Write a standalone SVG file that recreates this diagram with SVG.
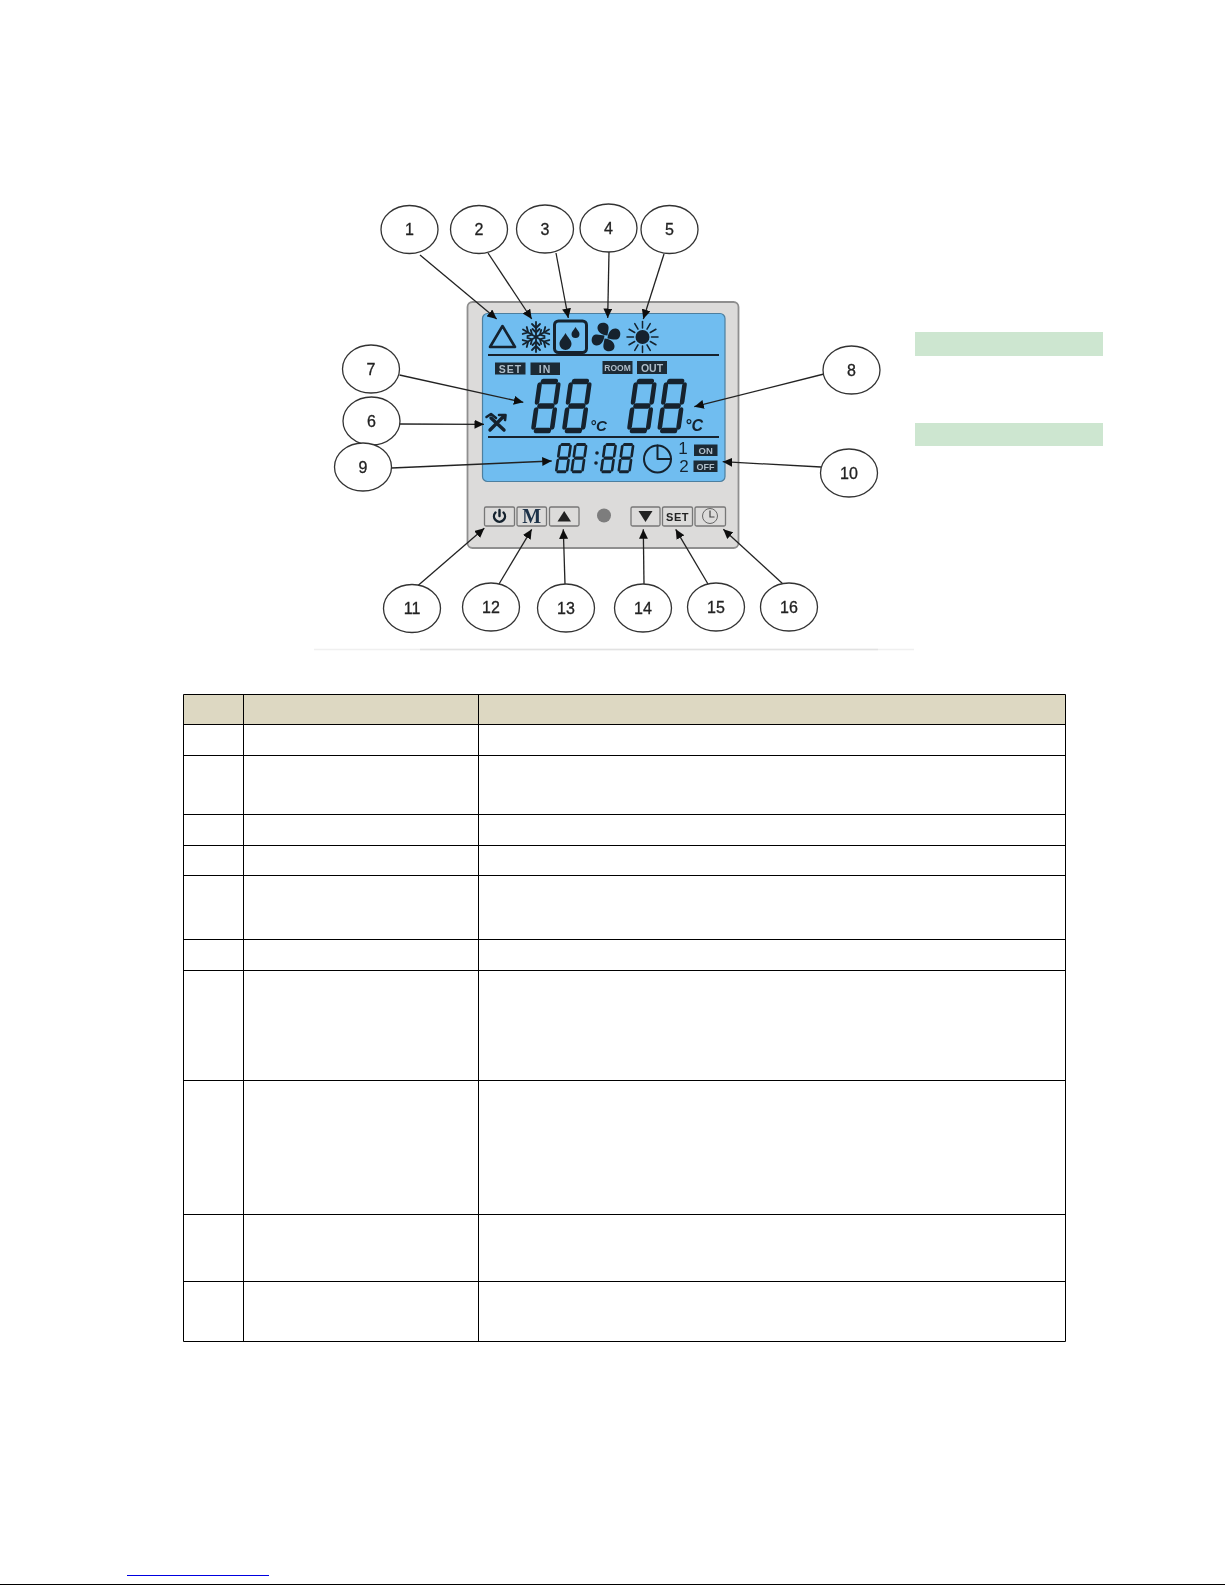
<svg xmlns="http://www.w3.org/2000/svg" xmlns:xlink="http://www.w3.org/1999/xlink" width="1225" height="1585" viewBox="0 0 1225 1585">
<style>
.call ellipse{fill:#fff;stroke:#333;stroke-width:1.3}
.call text{font:16px "Liberation Sans",Arial,sans-serif;fill:#222;stroke:#222;stroke-width:.3;text-anchor:middle}
#connectors line{stroke:#222;stroke-width:1.3;marker-end:url(#arr)}
.tbl{fill:none;stroke:#000;stroke-width:1}
.seg{stroke:#13222e;stroke-width:5.4;stroke-linecap:round;fill:none}
.tag{fill:#1d2a36}
.tagt{font:bold 10.5px "Liberation Sans",Arial,sans-serif;fill:#aebdc9;text-anchor:middle}
.btn{fill:#dcdbda;stroke:#777;stroke-width:1.3}
.ic{fill:none;stroke:#13222e;stroke-linecap:round;stroke-linejoin:round}
.dk{fill:#13222e}
</style>
<defs>
<marker id="arr" markerUnits="userSpaceOnUse" markerWidth="10" markerHeight="9" refX="9.500" refY="4.500" orient="auto"><path d="M0 0L9.500 4.500L0 9Z" fill="#111"/></marker>
<filter id="soft" x="-5%" y="-5%" width="110%" height="110%"><feGaussianBlur stdDeviation="0.45"/></filter>
<g id="digit" class="seg"><line x1="6" y1="2.500" x2="21" y2="2.500"/><line x1="6" y1="27" x2="21" y2="27"/><line x1="6" y1="51.500" x2="21" y2="51.500"/><line x1="2.500" y1="6" x2="2.500" y2="23"/><line x1="24.500" y1="6" x2="24.500" y2="23"/><line x1="2.500" y1="31" x2="2.500" y2="48"/><line x1="24.500" y1="31" x2="24.500" y2="48"/></g>
<g id="flk"><line x1="0" y1="-15" x2="0" y2="15"/><path d="M-4-13L0-9L4-13M-4 13L0 9L4 13M-3.500-8L0-4.500L3.500-8M-3.500 8L0 4.500L3.500 8"/></g>
<path id="lobe" d="M1.500-1.500C-4-2-9-5-8.500-10C-8-14.500-2-15.500 1-13C4-10.500 2-6 1.500-1.500Z"/>
<line id="ray" x1="0" y1="-9" x2="0" y2="-15.500"/>
</defs>
<rect width="1225" height="1585" fill="#fff"/>
<rect x="915" y="332" width="188" height="24" fill="#cde6d0"/>
<rect x="915" y="423" width="188" height="23" fill="#cde6d0"/>
<line x1="314" y1="649.500" x2="914" y2="649.500" stroke="#f0f0f0" stroke-width="1.500"/>
<line x1="420" y1="649.500" x2="878" y2="649.500" stroke="#e2e2e2" stroke-width="1.500"/>
<g filter="url(#soft)">
<g id="panel">
<rect x="467.500" y="302" width="271" height="246" rx="5" fill="#dcdbda" stroke="#8f8f8f" stroke-width="1.800"/>
<rect x="482.500" y="313.500" width="242.500" height="168" rx="5" fill="#6fbdf0" stroke="#4d7f9f" stroke-width="1.200"/>
<line x1="488" y1="355" x2="719" y2="355" stroke="#13222e" stroke-width="1.800"/>
<line x1="488" y1="437" x2="719" y2="437" stroke="#13222e" stroke-width="1.800"/>
</g>
<g id="icon-auto"><path class="ic" stroke-width="2.600" d="M502.500 326L515 347H490Z"/></g>
<g id="icon-cool" class="ic" stroke-width="1.800" transform="translate(536 337)"><use xlink:href="#flk"/><use xlink:href="#flk" transform="rotate(60)"/><use xlink:href="#flk" transform="rotate(120)"/></g>
<g id="icon-dry"><rect class="ic" x="554.500" y="321" width="32" height="31.500" rx="4" stroke-width="3"/><path class="dk" d="M565.500 333C568 338 571.500 340 571.500 344A6 6 0 0 1 559.500 344C559.500 340 563 338 565.500 333Z"/><path class="dk" d="M575.500 327C577 330 579.500 331.500 579.500 334A4 4 0 0 1 571.500 334C571.500 331.500 574 330 575.500 327Z"/></g>
<g id="icon-fan" class="dk" transform="translate(606 337)"><use xlink:href="#lobe"/><use xlink:href="#lobe" transform="rotate(90)"/><use xlink:href="#lobe" transform="rotate(180)"/><use xlink:href="#lobe" transform="rotate(270)"/></g>
<g id="icon-heat" transform="translate(642.500 337)"><circle r="7" class="dk"/><g class="ic" stroke-width="1.500"><use xlink:href="#ray"/><use xlink:href="#ray" transform="rotate(30)"/><use xlink:href="#ray" transform="rotate(60)"/><use xlink:href="#ray" transform="rotate(90)"/><use xlink:href="#ray" transform="rotate(120)"/><use xlink:href="#ray" transform="rotate(150)"/><use xlink:href="#ray" transform="rotate(180)"/><use xlink:href="#ray" transform="rotate(210)"/><use xlink:href="#ray" transform="rotate(240)"/><use xlink:href="#ray" transform="rotate(270)"/><use xlink:href="#ray" transform="rotate(300)"/><use xlink:href="#ray" transform="rotate(330)"/></g></g>
<g id="tags">
<rect class="tag" x="495" y="362.500" width="30.500" height="12"/><text class="tagt" x="510.500" y="372.500" letter-spacing="1">SET</text>
<rect class="tag" x="530.500" y="362.500" width="29.500" height="12.500"/><text class="tagt" x="545" y="372.500" letter-spacing="1">IN</text>
<rect class="tag" x="602.500" y="361" width="30" height="13"/><text class="tagt" x="617.500" y="371" style="font-size:8.500px">ROOM</text>
<rect class="tag" x="637" y="361" width="30" height="13"/><text class="tagt" x="652" y="371.500">OUT</text>
<rect class="tag" x="694" y="444.500" width="23.500" height="11.500"/><text class="tagt" x="705.700" y="454" style="font-size:9.500px">ON</text>
<rect class="tag" x="693.500" y="460.500" width="24" height="11.500"/><text class="tagt" x="705.500" y="470" style="font-size:9px">OFF</text>
</g>
<g id="temp-set">
<use xlink:href="#digit" transform="matrix(.85 0 -0.14 1 538.200 379)"/><use xlink:href="#digit" transform="matrix(.85 0 -0.14 1 569.200 379)"/>
<text x="590" y="431" font-family="Liberation Sans,Arial,sans-serif" font-style="italic" font-weight="bold" font-size="15" fill="#13222e">°C</text>
</g>
<g id="temp-room">
<use xlink:href="#digit" transform="matrix(.85 0 -0.14 1 634.200 379)"/><use xlink:href="#digit" transform="matrix(.85 0 -0.14 1 664.500 379)"/>
<text x="685" y="431" font-family="Liberation Sans,Arial,sans-serif" font-style="italic" font-weight="bold" font-size="16" fill="#13222e">°C</text>
</g>
<g id="icon-service" class="ic" stroke-width="3.400"><line x1="490" y1="430" x2="503" y2="417"/><line x1="491" y1="418" x2="504" y2="430"/><path d="M486.500 417L491 414L496 418" stroke-width="2.600"/><path d="M499 415L505.500 415L505 420" stroke-width="2.600"/></g>
<g id="clock-digits">
<use xlink:href="#digit" transform="matrix(0.49 0 -0.08 0.56 559 443)"/><use xlink:href="#digit" transform="matrix(0.49 0 -0.08 0.56 574.500 443)"/>
<circle cx="597" cy="453" r="1.800" class="dk"/><circle cx="596" cy="463" r="1.800" class="dk"/>
<use xlink:href="#digit" transform="matrix(0.49 0 -0.08 0.56 604 443)"/><use xlink:href="#digit" transform="matrix(0.49 0 -0.08 0.56 621.500 443)"/>
</g>
<g id="icon-timer"><circle class="ic" cx="657.500" cy="459" r="13.500" stroke-width="2"/><path class="ic" stroke-width="2" d="M657.500 445.500V459H671"/>
<text x="683" y="454" font-family="Liberation Sans,Arial,sans-serif" font-size="17" fill="#13222e" text-anchor="middle">1</text>
<text x="684" y="472" font-family="Liberation Sans,Arial,sans-serif" font-size="17" fill="#13222e" text-anchor="middle">2</text></g>
<g id="btn-power"><rect class="btn" x="484.500" y="507" width="30" height="19" rx="1.500"/><path class="ic" stroke-width="2.400" d="M495.500 512.500A5.500 5.500 0 1 0 503.500 512.500M499.500 510V516"/></g>
<g id="btn-mode"><rect class="btn" x="517" y="507" width="29.500" height="19" rx="1.500"/><text x="531.700" y="523" font-family="Liberation Serif,Times New Roman,serif" font-weight="bold" font-size="20" fill="#1c3248" text-anchor="middle">M</text></g>
<g id="btn-up"><rect class="btn" x="549.500" y="507" width="29.500" height="19" rx="1.500"/><path d="M564.200 511L571 521.500H557.500Z" fill="#222"/></g>
<circle id="led" cx="604" cy="515.500" r="7" fill="#7d7d7d"/>
<g id="btn-down"><rect class="btn" x="631" y="507" width="29" height="19" rx="1.500" stroke-width="1.600"/><path d="M638.500 511H652.500L645.500 522Z" fill="#222"/></g>
<g id="btn-set"><rect class="btn" x="662.500" y="507" width="30" height="19" rx="1.500"/><text x="677.500" y="520.500" font-family="Liberation Sans,Arial,sans-serif" font-weight="bold" font-size="11" letter-spacing=".5" fill="#222" text-anchor="middle">SET</text></g>
<g id="btn-timer"><rect class="btn" x="695" y="507" width="30.500" height="19" rx="1.500"/><circle cx="710" cy="516" r="7.500" fill="none" stroke="#666" stroke-width="1"/><path d="M710 510.500V517H714.500" fill="none" stroke="#444" stroke-width="1.200"/></g>
<g id="connectors">
<line x1="420" y1="255" x2="496.700" y2="319"/>
<line x1="488" y1="253" x2="531.700" y2="319"/>
<line x1="556" y1="253" x2="568.300" y2="318"/>
<line x1="609" y1="252" x2="607.700" y2="318"/>
<line x1="664" y1="254" x2="643.300" y2="319"/>
<line x1="399.500" y1="375" x2="523.300" y2="402.300"/>
<line x1="824" y1="374" x2="694.300" y2="406.700"/>
<line x1="399.500" y1="424" x2="484" y2="424.300"/>
<line x1="391.500" y1="468" x2="551.700" y2="461"/>
<line x1="821" y1="467" x2="722.700" y2="461.700"/>
<line x1="414" y1="589" x2="484.300" y2="528.300"/>
<line x1="499" y1="584" x2="531.700" y2="529.300"/>
<line x1="565" y1="584" x2="563.300" y2="529.300"/>
<line x1="644" y1="584" x2="643.300" y2="529.300"/>
<line x1="708" y1="584" x2="675.700" y2="529.300"/>
<line x1="783" y1="584" x2="723.300" y2="529.300"/>
</g>
<g id="call-1" class="call"><ellipse cx="409.500" cy="229.500" rx="28.500" ry="24"/><text x="409.500" y="235">1</text></g>
<g id="call-2" class="call"><ellipse cx="479" cy="229.500" rx="28.500" ry="24"/><text x="479" y="235">2</text></g>
<g id="call-3" class="call"><ellipse cx="545" cy="229" rx="28.500" ry="24"/><text x="545" y="234.500">3</text></g>
<g id="call-4" class="call"><ellipse cx="608.500" cy="228" rx="28.500" ry="24"/><text x="608.500" y="233.500">4</text></g>
<g id="call-5" class="call"><ellipse cx="669.500" cy="229.500" rx="28.500" ry="24"/><text x="669.500" y="235">5</text></g>
<g id="call-6" class="call"><ellipse cx="371.500" cy="421" rx="28.500" ry="24"/><text x="371.500" y="426.500">6</text></g>
<g id="call-7" class="call"><ellipse cx="371" cy="369" rx="28.500" ry="24"/><text x="371" y="374.500">7</text></g>
<g id="call-8" class="call"><ellipse cx="851.500" cy="370" rx="28.500" ry="24"/><text x="851.500" y="375.500">8</text></g>
<g id="call-9" class="call"><ellipse cx="363" cy="467" rx="28.500" ry="24"/><text x="363" y="472.500">9</text></g>
<g id="call-10" class="call"><ellipse cx="849" cy="473" rx="28.500" ry="24"/><text x="849" y="478.500">10</text></g>
<g id="call-11" class="call"><ellipse cx="412" cy="608.500" rx="28.500" ry="24"/><text x="412" y="614">11</text></g>
<g id="call-12" class="call"><ellipse cx="491" cy="607" rx="28.500" ry="24"/><text x="491" y="612.500">12</text></g>
<g id="call-13" class="call"><ellipse cx="566" cy="608" rx="28.500" ry="24"/><text x="566" y="613.500">13</text></g>
<g id="call-14" class="call"><ellipse cx="643" cy="608" rx="28.500" ry="24"/><text x="643" y="613.500">14</text></g>
<g id="call-15" class="call"><ellipse cx="716" cy="607" rx="28.500" ry="24"/><text x="716" y="612.500">15</text></g>
<g id="call-16" class="call"><ellipse cx="789" cy="607" rx="28.500" ry="24"/><text x="789" y="612.500">16</text></g>
</g>
<g id="table">
<rect x="183.500" y="694.500" width="882" height="30" fill="#ddd8c2"/>
<path class="tbl" d="M183.500 694.500H1065.500V1341.500H183.500ZM243.500 694.500V1341.500M478.500 694.500V1341.500M183.500 724.500H1065.500M183.500 755.500H1065.500M183.500 814.500H1065.500M183.500 845.500H1065.500M183.500 875.500H1065.500M183.500 939.500H1065.500M183.500 970.500H1065.500M183.500 1080.500H1065.500M183.500 1214.500H1065.500M183.500 1281.500H1065.500"/>
</g>
<line x1="127" y1="1575.500" x2="269" y2="1575.500" stroke="#0000e0" stroke-width="1"/>
<line x1="0" y1="1584.500" x2="1225" y2="1584.500" stroke="#000" stroke-width="1"/>
</svg>
